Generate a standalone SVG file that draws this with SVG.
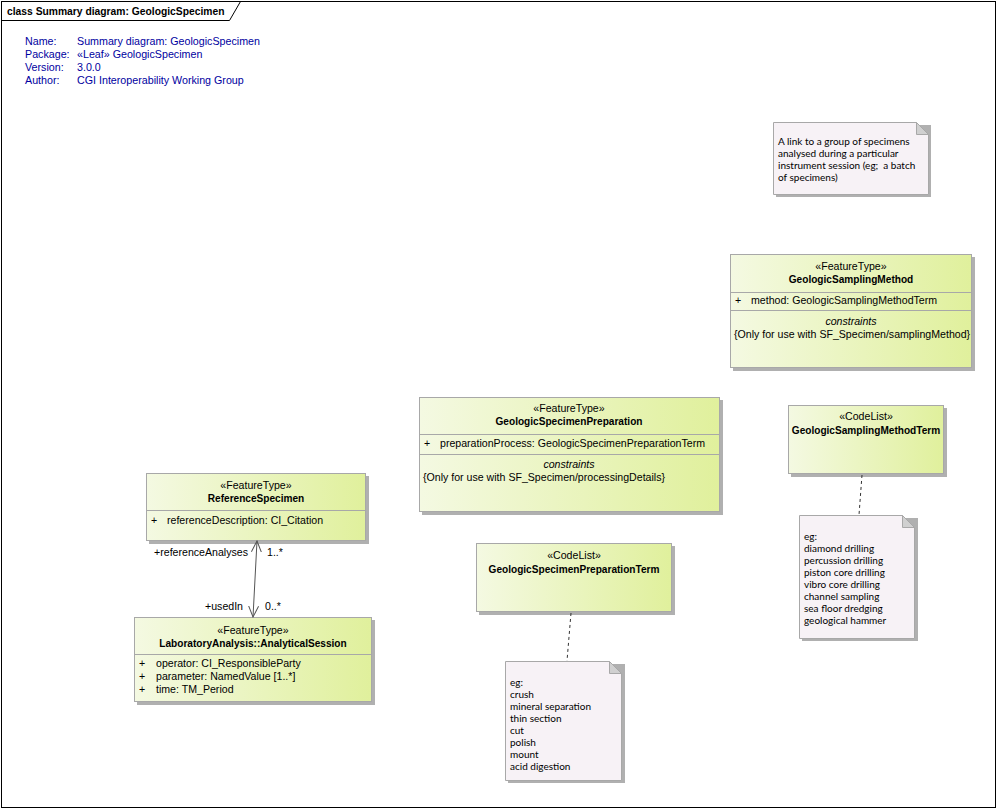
<svg xmlns="http://www.w3.org/2000/svg" width="997" height="809" viewBox="0 0 997 809">
<defs>
<linearGradient id="g" x1="0" y1="0" x2="1" y2="0">
<stop offset="0" stop-color="#f4f9e2"/>
<stop offset="1" stop-color="#e0f09c"/>
</linearGradient>
<marker id="arr" viewBox="0 0 12 12" refX="11" refY="6" markerWidth="12" markerHeight="12" orient="auto" markerUnits="userSpaceOnUse">
<path d="M0,1 L11,6 L0,11" fill="none" stroke="#555" stroke-width="1"/>
</marker>
<marker id="arrs" viewBox="0 0 12 12" refX="11" refY="6" markerWidth="12" markerHeight="12" orient="auto-start-reverse" markerUnits="userSpaceOnUse">
<path d="M0,1 L11,6 L0,11" fill="none" stroke="#555" stroke-width="1"/>
</marker>
</defs>
<style>
text{font-family:"Liberation Sans",Arial,sans-serif;font-size:10.6px;fill:#000}
.hdr text{fill:#0000a0;font-size:10.7px}
.cls{fill:url(#g);stroke:#a8a8a8;stroke-width:1}
.sh{fill:#b0b0b0}
.sep{stroke:#a8a8a8;stroke-width:1}
.note{fill:#f7f2f6;stroke:#a8a8a8;stroke-width:1}
.fold{fill:#d0d0d0;stroke:#a8a8a8;stroke-width:1}
.c{text-anchor:middle}
.b{font-weight:bold;font-size:10.1px}
.i{font-style:italic}
.n text{font-family:Lato,"Liberation Sans",sans-serif;font-size:10px}
.dash{stroke:#333;stroke-width:1;stroke-dasharray:3,3;fill:none}
.assoc{stroke:#555;stroke-width:1;fill:none}
</style>
<rect x="0" y="0" width="997" height="809" fill="#fff"/>
<rect x="1.5" y="1.5" width="994" height="806" fill="none" stroke="#000" stroke-width="1"/>
<path d="M1.5,20.5 H229.5 L240.5,1.5" fill="none" stroke="#000" stroke-width="1"/>
<text x="7" y="15" style="font-weight:bold;font-size:10.3px">class Summary diagram: GeologicSpecimen</text>
<g class="hdr">
<text x="25" y="45">Name:</text><text x="77" y="45">Summary diagram: GeologicSpecimen</text>
<text x="25" y="58">Package:</text><text x="77" y="58">«Leaf» GeologicSpecimen</text>
<text x="25" y="71">Version:</text><text x="77" y="71">3.0.0</text>
<text x="25" y="84">Author:</text><text x="77" y="84">CGI Interoperability Working Group</text>
</g>

<g id="note1" class="n">
<path class="sh" d="M776,125 H931 V197 H776 Z"/>
<path class="note" d="M773.5,122.5 H916.5 L928.5,134.5 V194.5 H773.5 Z"/>
<path class="fold" d="M916.5,122.5 V134.5 H928.5 Z"/>
<text x="778" y="145">A link to a group of specimens</text>
<text x="778" y="157">analysed during a particular</text>
<text x="778" y="169" xml:space="preserve">instrument session (eg;  a batch</text>
<text x="778" y="181">of specimens)</text>
</g>

<g id="GeologicSamplingMethod">
<rect class="sh" x="733" y="257" width="242" height="114"/>
<rect class="cls" x="730.5" y="254.5" width="241" height="113"/>
<line class="sep" x1="730.5" y1="292.5" x2="971.5" y2="292.5"/>
<line class="sep" x1="730.5" y1="310.5" x2="971.5" y2="310.5"/>
<text x="851" y="270" class="c">«FeatureType»</text>
<text x="851" y="283" class="c b">GeologicSamplingMethod</text>
<text x="735" y="304">+</text><text x="751" y="304">method: GeologicSamplingMethodTerm</text>
<text x="851" y="325" class="c i">constraints</text>
<text x="734" y="338">{Only for use with SF_Specimen/samplingMethod}</text>
</g>

<g id="GeologicSpecimenPreparation">
<rect class="sh" x="422" y="400" width="301" height="115"/>
<rect class="cls" x="419.5" y="397.5" width="300" height="114"/>
<line class="sep" x1="419.5" y1="434.5" x2="719.5" y2="434.5"/>
<line class="sep" x1="419.5" y1="454.5" x2="719.5" y2="454.5"/>
<text x="569" y="412" class="c">«FeatureType»</text>
<text x="569" y="425" class="c b">GeologicSpecimenPreparation</text>
<text x="424" y="447">+</text><text x="440" y="447">preparationProcess: GeologicSpecimenPreparationTerm</text>
<text x="569" y="468" class="c i">constraints</text>
<text x="423" y="481">{Only for use with SF_Specimen/processingDetails}</text>
</g>

<g id="GeologicSamplingMethodTerm">
<rect class="sh" x="791" y="408" width="156" height="69"/>
<rect class="cls" x="788.5" y="405.5" width="155" height="68"/>
<text x="866" y="420" class="c">«CodeList»</text>
<text x="866" y="434" class="c b">GeologicSamplingMethodTerm</text>
</g>

<g id="GeologicSpecimenPreparationTerm">
<rect class="sh" x="479" y="546" width="196" height="69"/>
<rect class="cls" x="476.5" y="543.5" width="195" height="68"/>
<text x="574" y="559" class="c">«CodeList»</text>
<text x="574" y="573" class="c b">GeologicSpecimenPreparationTerm</text>
</g>

<g id="note2" class="n">
<path class="sh" d="M802,518 H918 V641 H802 Z"/>
<path class="note" d="M799.5,515.5 H902.5 L914.5,527.5 V638.5 H799.5 Z"/>
<path class="fold" d="M902.5,515.5 V527.5 H914.5 Z"/>
<text x="804" y="540">eg:</text>
<text x="804" y="552">diamond drilling</text>
<text x="804" y="564">percussion drilling</text>
<text x="804" y="576">piston core drilling</text>
<text x="804" y="588">vibro core drilling</text>
<text x="804" y="600">channel sampling</text>
<text x="804" y="612">sea floor dredging</text>
<text x="804" y="624">geological hammer</text>
</g>

<g id="note3" class="n">
<path class="sh" d="M508,664 H625 V783 H508 Z"/>
<path class="note" d="M505.5,661.5 H609.5 L621.5,673.5 V780.5 H505.5 Z"/>
<path class="fold" d="M609.5,661.5 V673.5 H621.5 Z"/>
<text x="510" y="686">eg:</text>
<text x="510" y="698">crush</text>
<text x="510" y="710">mineral separation</text>
<text x="510" y="722">thin section</text>
<text x="510" y="734">cut</text>
<text x="510" y="746">polish</text>
<text x="510" y="758">mount</text>
<text x="510" y="770">acid digestion</text>
</g>

<g id="ReferenceSpecimen">
<rect class="sh" x="149" y="476" width="220" height="68"/>
<rect class="cls" x="146.5" y="473.5" width="219" height="67"/>
<line class="sep" x1="146.5" y1="510.5" x2="365.5" y2="510.5"/>
<text x="256" y="489" class="c">«FeatureType»</text>
<text x="256" y="502" class="c b">ReferenceSpecimen</text>
<text x="151" y="524">+</text><text x="167" y="524">referenceDescription: CI_Citation</text>
</g>

<g id="AnalyticalSession">
<rect class="sh" x="137" y="620" width="238" height="85"/>
<rect class="cls" x="134.5" y="617.5" width="237" height="84"/>
<line class="sep" x1="134.5" y1="654.5" x2="371.5" y2="654.5"/>
<text x="253" y="634" class="c">«FeatureType»</text>
<text x="253" y="647" class="c b">LaboratoryAnalysis::AnalyticalSession</text>
<text x="139" y="667">+</text><text x="156" y="667">operator: CI_ResponsibleParty</text>
<text x="139" y="680">+</text><text x="156" y="680">parameter: NamedValue [1..*]</text>
<text x="139" y="693">+</text><text x="156" y="693">time: TM_Period</text>
</g>

<g id="connectors">
<line class="assoc" x1="257" y1="541" x2="253" y2="617" marker-start="url(#arrs)" marker-end="url(#arr)"/>
<text x="248" y="556" style="text-anchor:end">+referenceAnalyses</text>
<text x="267" y="556">1..*</text>
<text x="243" y="610" style="text-anchor:end">+usedIn</text>
<text x="265" y="610">0..*</text>
<line class="dash" x1="862" y1="475" x2="859" y2="515"/>
<line class="dash" x1="571" y1="613" x2="567" y2="661"/>
</g>
</svg>
